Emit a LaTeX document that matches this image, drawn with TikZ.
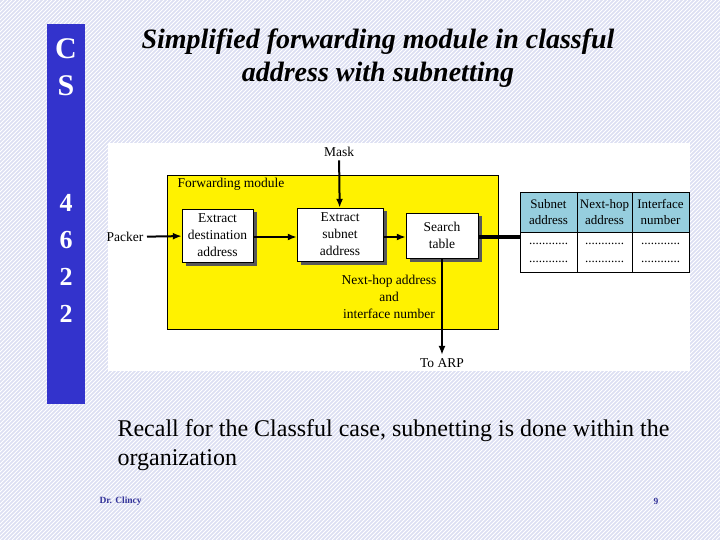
\documentclass[tikz,border=0pt]{standalone}
\usepackage{fontspec}
\setmainfont{Liberation Serif}
\usetikzlibrary{arrows.meta,shadows}
\definecolor{slidebg}{RGB}{220,223,242}
\definecolor{barblue}{RGB}{51,51,204}
\definecolor{hdrblue}{RGB}{150,206,222}
\definecolor{footblue}{RGB}{51,51,153}
\begin{document}
\begin{tikzpicture}[x=1pt,y=-1pt,
  procbox/.style={draw, fill=white, align=center, inner sep=1pt,
    font=\fontsize{13.5}{17}\selectfont,
    drop shadow={shadow xshift=3.5pt, shadow yshift=-3.5pt, fill=black!65, opacity=1}},
  lbl/.style={font=\fontsize{13.5}{17}\selectfont, align=center},
  cell/.style={font=\fontsize{13}{16}\selectfont, align=center},
  arr/.style={line width=2pt, -{Latex[length=9pt,width=7pt]}}]
\useasboundingbox (0,0) rectangle (720,540);
% slide background
\fill[slidebg] (0,0) rectangle (720,540);
\begin{scope}
\clip (0,0) rectangle (720,540);
\foreach \i in {-540,-536,...,720}
  \draw[white, line width=0.8pt] (\i,540) -- ++(540,-540);
\end{scope}
\fill[barblue] (47,24) rectangle (85,404);
\node[font=\bfseries\fontsize{30}{30}\selectfont, text=white] (c) at (66,49) {C};
\node[font=\bfseries\fontsize{30}{30}\selectfont, text=white] (s) at (66,86) {S};
\node[font=\bfseries\fontsize{26}{26}\selectfont, text=white] (d4) at (66,203) {4};
\node[font=\bfseries\fontsize{26}{26}\selectfont, text=white] (d6) at (66,240) {6};
\node[font=\bfseries\fontsize{26}{26}\selectfont, text=white] (d2a) at (66,277) {2};
\node[font=\bfseries\fontsize{26}{26}\selectfont, text=white] (d2b) at (66,314) {2};
\node[font=\bfseries\itshape\fontsize{28}{33}\selectfont, align=center] (title) at (378,58)
  {Simplified forwarding module in classful\\address with subnetting};
% figure
\fill[white] (108,143) rectangle (690,371);
\node[draw, fill=yellow, minimum width=331pt, minimum height=154pt, inner sep=0pt] (fwd) at (332.5,252) {};
\node[lbl, anchor=west] (fwdlbl) at (174,184) {Forwarding module};
\node[procbox, minimum width=71pt, minimum height=53pt] (ext1) at (217.5,235.5) {Extract\\destination\\address};
\node[procbox, minimum width=86pt, minimum height=53pt] (ext2) at (340,234.5) {Extract\\subnet\\address};
\node[procbox, minimum width=72pt, minimum height=45pt] (srch) at (442,235.5) {Search\\table};
\node[lbl] (mask) at (339,152) {Mask};
\node[lbl, anchor=east] (pkt) at (147,237) {Packer};
\node[lbl] (arp) at (442,363) {To ARP};
\node[lbl] (nhop) at (389,297) {Next-hop address\\and\\interface number};
\draw[arr] (pkt) -- (ext1);
\draw[arr] (ext1.east |- 0,237) -- (ext2.west |- 0,237);
\draw[arr] (ext2.east |- 0,237) -- (srch.west |- 0,237);
\draw[arr] (mask) -- (ext2);
\draw[arr] (srch) -- (arp);
% routing table
\node[draw, minimum width=169pt, minimum height=80pt, inner sep=0pt] (tbl) at (604.5,232) {};
\draw[line width=4pt] (srch.east |- 0,237) -- (tbl.west |- 0,237);
\filldraw[fill=hdrblue] (520,192) rectangle (689,232);
\draw (520,192) rectangle (689,272);
\draw (577,192) -- (577,272);
\draw (632,192) -- (632,272);
\node[cell] (h1) at (548.5,212) {Subnet\\address};
\node[cell] (h2) at (604.5,212) {Next-hop\\address};
\node[cell] (h3) at (660.5,212) {Interface\\number};
\foreach \cx in {548.5,604.5,660.5} {
  \node[cell] at (\cx,244) {............};
  \node[cell] at (\cx,262) {............};
}
% text and footer
\node[font=\fontsize{24}{29}\selectfont, align=left, anchor=west] (recall) at (114,445)
  {Recall for the Classful case, subnetting is done within the\\organization};
\node[font=\bfseries\fontsize{9.5}{9.5}\selectfont, text=footblue, anchor=west] (auth) at (96,501) {Dr. Clincy};
\node[font=\bfseries\fontsize{9.5}{9.5}\selectfont, text=footblue] (pg) at (656,501) {9};
\end{tikzpicture}
\end{document}
